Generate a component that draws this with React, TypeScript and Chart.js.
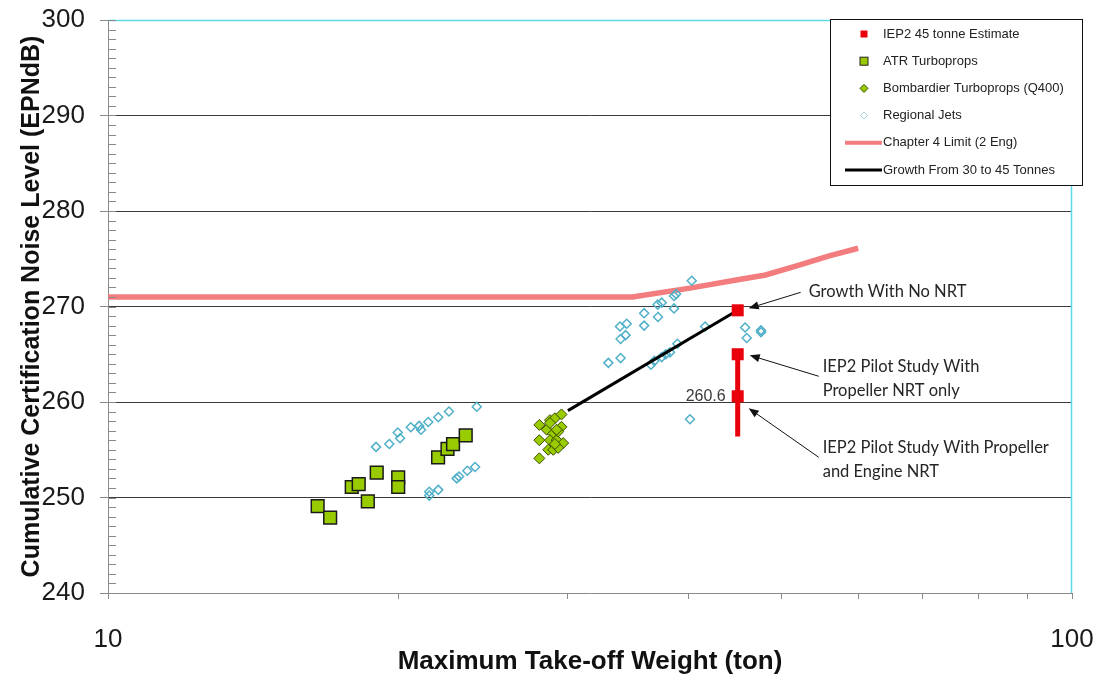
import React, { useEffect, useRef } from "react";
import { Chart, registerables } from "chart.js";
Chart.register(...registerables);

// ---------- data ----------
const iepX = [45, 45, 45];
const iepY = [269.6, 265.0, 260.6];
const iepRangeX = [45, 45];
const iepRangeY = [265.0, 256.4];
const iepLabel = "260.6";

const atrX = [16.5, 17.0, 17.9, 18.2, 18.6, 19.0, 20.0, 20.0, 22.0, 22.5, 22.8, 23.5];
const atrY = [249.1, 247.9, 251.1, 251.4, 249.6, 252.6, 252.1, 251.1, 254.2, 255.1, 255.6, 256.5];

const q400X = [28.02, 28.74, 29.08, 29.54, 28.02, 28.52, 28.97, 29.54, 28.74, 29.2, 29.66, 28.62, 28.97, 29.31, 28.02, 28.74, 29.31, 29.08, 29.2];
const q400Y = [257.6, 258.1, 258.3, 258.7, 256.0, 257.1, 256.7, 257.4, 256.0, 256.0, 255.7, 255.0, 255.0, 255.2, 254.1, 257.8, 256.9, 255.6, 257.1];

const rjX = [
  18.97, 19.58, 19.98, 20.09, 20.61, 21.03, 21.12, 21.49, 22.01, 22.58, 24.13,
  21.54, 21.54, 22.01, 23.0, 23.13, 23.59, 24.03,
  33.04, 34.02, 33.97, 34.52, 34.02, 34.43, 35.99, 35.99, 37.17, 37.2, 37.53, 38.65, 38.84, 38.65,
  40.32, 41.63, 36.58, 36.87, 37.53, 37.9, 38.28, 38.96, 45.8, 45.98, 47.58, 47.58, 40.15,
];
const rjY = [
  255.3, 255.6, 256.8, 256.2, 257.35, 257.5, 257.1, 257.9, 258.4, 259.0, 259.5,
  250.6, 250.2, 250.8, 252.0, 252.2, 252.8, 253.2,
  264.1, 264.6, 267.9, 268.2, 266.6, 267.0, 269.3, 268.0, 270.2, 268.9, 270.4, 271.1, 271.3, 269.8,
  272.7, 267.9, 263.9, 264.3, 264.7, 265.0, 265.2, 266.1, 267.8, 266.7, 267.5, 267.3, 258.2,
];

const ch4X = [10, 35, 40, 45, 48.1, 52, 56, 60];
const ch4Y = [271.0, 271.0, 271.9, 272.8, 273.3, 274.3, 275.3, 276.1];

const growthX = [30, 45];
const growthY = [259.1, 269.6];

const xTickValues = [10, 20, 30, 40, 50, 60, 70, 80, 90, 100];
const xLabelValues = [10, 100];
const yMin = 240;
const yMax = 300;
const yMajorStep = 10;

const legendLabels = [
  "IEP2 45 tonne Estimate",
  "ATR Turboprops",
  "Bombardier Turboprops (Q400)",
  "Regional Jets",
  "Chapter 4 Limit (2 Eng)",
  "Growth From 30 to 45 Tonnes",
];

const notes = [
  ["Growth With No NRT"],
  ["IEP2 Pilot Study With", "Propeller NRT only"],
  ["IEP2 Pilot Study With Propeller", "and Engine NRT"],
];

const xTitle = "Maximum Take-off Weight (ton)";
const yTitle = "Cumulative Certification Noise Level (EPNdB)";

// ---------- styles ----------
const RED = "#e8000b";
const GREEN = "#99cc00";
const RJ_BLUE = "#4fb0c8";
const PINK = "#f27c7e";
const CYAN = "#5dd9ea";
const FONT = '"Liberation Sans", Arial, sans-serif';
const NOTE_FONT = 'Lato, "Open Sans", sans-serif';

const zip = (xs: number[], ys: number[]) => xs.map((x, i) => ({ x, y: ys[i] }));

function drawArrow(ctx: CanvasRenderingContext2D, x1: number, y1: number, x2: number, y2: number) {
  const ang = Math.atan2(y2 - y1, x2 - x1);
  const len = 10;
  const hw = 4;
  ctx.beginPath();
  ctx.moveTo(x1, y1);
  ctx.lineTo(x2 - Math.cos(ang) * len * 0.8, y2 - Math.sin(ang) * len * 0.8);
  ctx.strokeStyle = "#111";
  ctx.lineWidth = 1;
  ctx.stroke();
  ctx.beginPath();
  ctx.moveTo(x2, y2);
  ctx.lineTo(x2 - Math.cos(ang) * len - Math.sin(ang) * hw, y2 - Math.sin(ang) * len + Math.cos(ang) * hw);
  ctx.lineTo(x2 - Math.cos(ang) * len + Math.sin(ang) * hw, y2 - Math.sin(ang) * len - Math.cos(ang) * hw);
  ctx.closePath();
  ctx.fillStyle = "#111";
  ctx.fill();
}

const overlayPlugin = {
  id: "overlay",
  afterDraw(chart: any) {
    const { ctx, chartArea: a, scales } = chart;
    const xs = scales.x;
    const ys = scales.y;
    ctx.save();

    // cyan top/right border
    ctx.strokeStyle = CYAN;
    ctx.lineWidth = 1.5;
    ctx.beginPath();
    ctx.moveTo(a.left, a.top + 0.5);
    ctx.lineTo(a.right - 0.5, a.top + 0.5);
    ctx.lineTo(a.right - 0.5, a.bottom);
    ctx.stroke();

    // minor y ticks inside the axis
    ctx.strokeStyle = "#8a8a8a";
    ctx.lineWidth = 1;
    ctx.beginPath();
    for (let v = yMin; v <= yMax; v++) {
      const py = Math.round(ys.getPixelForValue(v)) + 0.5;
      ctx.moveTo(a.left, py);
      ctx.lineTo(a.left + 8, py);
    }
    ctx.stroke();

    // value label
    const px = xs.getPixelForValue(iepX[2]);
    const p0 = ys.getPixelForValue(iepY[0]);
    const p1 = ys.getPixelForValue(iepY[1]);
    const p2 = ys.getPixelForValue(iepY[2]);
    ctx.font = `16px ${FONT}`;
    ctx.fillStyle = "#3a3a3a";
    ctx.textAlign = "right";
    ctx.textBaseline = "middle";
    ctx.fillText(iepLabel, px - 12, p2);

    // annotations
    ctx.font = `16.5px ${NOTE_FONT}`;
    ctx.fillStyle = "#262626";
    ctx.textAlign = "left";
    ctx.fillText(notes[0][0], px + 71, p0 - 19);
    ctx.fillText(notes[1][0], px + 85, p1 + 12);
    ctx.fillText(notes[1][1], px + 85, p1 + 36);
    ctx.fillText(notes[2][0], px + 85, p2 + 51);
    ctx.fillText(notes[2][1], px + 85, p2 + 75);
    drawArrow(ctx, px + 63, p0 - 18, px + 11, p0 - 2);
    drawArrow(ctx, px + 81, p1 + 22, px + 12, p1 + 1);
    drawArrow(ctx, px + 81, p2 + 61, px + 11, p2 + 12);

    // legend
    const lx = a.right - 242;
    const ly = a.top - 1;
    const lw = 252;
    const lh = 166;
    ctx.fillStyle = "#fff";
    ctx.fillRect(lx, ly, lw, lh);
    ctx.strokeStyle = "#111";
    ctx.lineWidth = 1;
    ctx.strokeRect(lx + 0.5, ly + 0.5, lw, lh);
    const mx = lx + 34;
    const tx = lx + 53;
    legendLabels.forEach((label, i) => {
      const ry = ly + 15 + i * 27.2;
      if (i === 0) {
        ctx.fillStyle = RED;
        ctx.fillRect(mx - 3.5, ry - 3.5, 7, 7);
      } else if (i === 1) {
        ctx.fillStyle = GREEN;
        ctx.fillRect(mx - 4, ry - 4, 8, 8);
        ctx.strokeStyle = "#222";
        ctx.lineWidth = 1;
        ctx.strokeRect(mx - 4, ry - 4, 8, 8);
      } else if (i === 2) {
        ctx.beginPath();
        ctx.moveTo(mx - 4, ry);
        ctx.lineTo(mx, ry - 4);
        ctx.lineTo(mx + 4, ry);
        ctx.lineTo(mx, ry + 4);
        ctx.closePath();
        ctx.fillStyle = GREEN;
        ctx.fill();
        ctx.strokeStyle = "#3b4a00";
        ctx.lineWidth = 1;
        ctx.stroke();
      } else if (i === 3) {
        ctx.beginPath();
        ctx.moveTo(mx - 3.5, ry);
        ctx.lineTo(mx, ry - 3.5);
        ctx.lineTo(mx + 3.5, ry);
        ctx.lineTo(mx, ry + 3.5);
        ctx.closePath();
        ctx.strokeStyle = "#9fd3e0";
        ctx.lineWidth = 1;
        ctx.stroke();
      } else {
        ctx.beginPath();
        ctx.moveTo(lx + 15, ry);
        ctx.lineTo(lx + 52, ry);
        ctx.strokeStyle = i === 4 ? PINK : "#000";
        ctx.lineWidth = i === 4 ? 4 : 3;
        ctx.stroke();
      }
      ctx.font = `13px ${FONT}`;
      ctx.fillStyle = "#222";
      ctx.textAlign = "left";
      ctx.textBaseline = "middle";
      ctx.fillText(label, tx, ry);
    });

    ctx.restore();
  },
};

export default function App() {
  const ref = useRef<HTMLCanvasElement | null>(null);

  useEffect(() => {
    if (!ref.current) return;
    const chart = new Chart(ref.current, {
      type: "scatter",
      data: {
        datasets: [
          {
            label: legendLabels[0],
            data: zip(iepX, iepY),
            pointStyle: "rect",
            pointRadius: 8.5,
            pointBackgroundColor: RED,
            pointBorderColor: RED,
            pointBorderWidth: 0,
            showLine: false,
            order: 0,
          },
          {
            label: "range",
            data: zip(iepRangeX, iepRangeY),
            showLine: true,
            pointRadius: 0,
            borderColor: RED,
            borderWidth: 5,
            order: 1,
          },
          {
            label: legendLabels[1],
            data: zip(atrX, atrY),
            pointStyle: "rect",
            pointRadius: 9,
            pointBackgroundColor: GREEN,
            pointBorderColor: "#1a1a1a",
            pointBorderWidth: 1.5,
            showLine: false,
            order: 3,
          },
          {
            label: legendLabels[2],
            data: zip(q400X, q400Y),
            pointStyle: "rectRot",
            pointRadius: 5.5,
            pointBackgroundColor: GREEN,
            pointBorderColor: "#3b4a00",
            pointBorderWidth: 1,
            showLine: false,
            order: 3,
          },
          {
            label: legendLabels[3],
            data: zip(rjX, rjY),
            pointStyle: "rectRot",
            pointRadius: 4.5,
            pointBackgroundColor: "rgba(255,255,255,0)",
            pointBorderColor: RJ_BLUE,
            pointBorderWidth: 1.5,
            showLine: false,
            order: 4,
          },
          {
            label: legendLabels[4],
            data: zip(ch4X, ch4Y),
            showLine: true,
            pointRadius: 0,
            borderColor: PINK,
            borderWidth: 5.5,
            order: 5,
          },
          {
            label: legendLabels[5],
            data: zip(growthX, growthY),
            showLine: true,
            pointRadius: 0,
            borderColor: "#000",
            borderWidth: 3,
            order: 2,
          },
        ],
      },
      options: {
        responsive: false,
        animation: false,
        events: [],
        layout: { padding: { top: 20, right: 28, left: 0, bottom: 0 } },
        plugins: { legend: { display: false }, tooltip: { enabled: false }, title: { display: false } },
        scales: {
          x: {
            type: "logarithmic",
            min: 10,
            max: 100,
            afterBuildTicks: (s: any) => {
              s.ticks = xTickValues.map((v) => ({ value: v }));
            },
            afterFit: (s: any) => {
              s.height = 85;
              s.paddingLeft = 0;
              s.paddingRight = 0;
            },
            ticks: {
              autoSkip: false,
              maxRotation: 0,
              padding: 25,
              color: "#1a1a1a",
              font: { family: FONT, size: 26 },
              callback: (v: any) => (xLabelValues.includes(Number(v)) ? String(v) : ""),
            },
            grid: { drawOnChartArea: false, drawTicks: true, tickLength: 6, color: "#8a8a8a", tickColor: "#8a8a8a" },
            border: { color: "#8a8a8a", width: 1 },
            title: {
              display: true,
              text: xTitle,
              color: "#111",
              font: { family: FONT, size: 26, weight: "bold" },
              padding: { top: 0, bottom: 1 },
            },
          },
          y: {
            type: "linear",
            min: yMin,
            max: yMax,
            afterFit: (s: any) => {
              s.width = 108;
              s.paddingTop = 0;
              s.paddingBottom = 0;
            },
            ticks: {
              stepSize: 1,
              autoSkip: false,
              padding: 15,
              color: "#1a1a1a",
              font: { family: FONT, size: 26 },
              callback: (v: any) => (Number(v) % yMajorStep === 0 ? String(v) : ""),
            },
            grid: {
              drawTicks: true,
              tickLength: 8,
              color: (c: any) => {
                const v = c.tick ? c.tick.value : NaN;
                return v % yMajorStep === 0 && v > yMin && v < yMax ? "#3a3a3a" : "rgba(0,0,0,0)";
              },
              tickColor: (c: any) => {
                const v = c.tick ? c.tick.value : NaN;
                return v % yMajorStep === 0 ? "#8a8a8a" : "rgba(0,0,0,0)";
              },
            },
            border: { color: "#8a8a8a", width: 1 },
            title: {
              display: true,
              text: yTitle,
              color: "#111",
              font: { family: FONT, size: 25, weight: "bold" },
              padding: { top: 17, bottom: 0 },
            },
          },
        },
      },
      plugins: [overlayPlugin],
    } as any);
    return () => chart.destroy();
  }, []);

  return (
    <div style={{ position: "fixed", left: 0, top: 0, width: 1100, height: 678, background: "#fff" }}>
      <canvas ref={ref} width={1100} height={678} style={{ display: "block", width: 1100, height: 678 }} />
    </div>
  );
}
